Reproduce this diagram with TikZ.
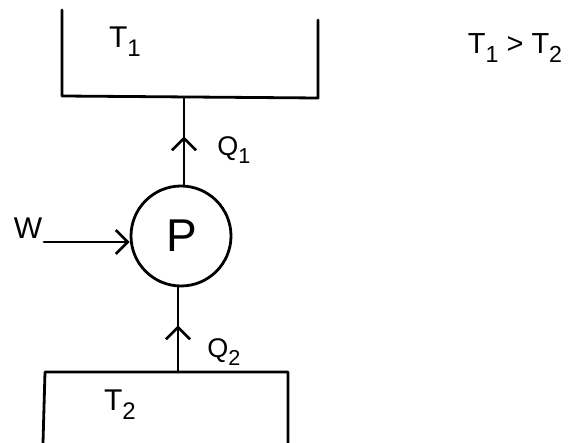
\documentclass[tikz,border=0pt]{standalone}
\usepackage{fontspec}
\setmainfont{Liberation Sans}
\usetikzlibrary{arrows.meta,decorations.markings}
% lowered subscript set in ordinary text
\newcommand\lowsub[1]{\raisebox{-0.3em}{\scalebox{0.8}{#1}}}
\tikzset{barb/.tip={Straight Barb[length=12pt,width=24pt,line width=2.6pt]}}
\begin{document}
\begin{tikzpicture}[x=1pt,y=-1pt,
  ink/.style={line width=2.8pt,line cap=round,line join=round},
  flow/.style={ink,postaction={decorate},decoration={markings,
      mark=at position 0.55 with {\arrow{barb}}}},
  lbl/.style={inner sep=0pt,font=\fontsize{30}{32}\selectfont}]
\useasboundingbox (0,0) rectangle (573,443);
% hot reservoir
\draw[ink] (62,10) -- (62,96) -- (318,98) -- (318,20);
\node[lbl] (t1) at (125,42) {T\lowsub{1}};
% cold reservoir
\draw[ink] (43,443) -- (45,372) -- (288,372) -- (288,443);
\node[lbl] (t2) at (120,405) {T\lowsub{2}};
% heat pump
\node[ink,draw,circle,minimum size=100pt,inner sep=0pt] (p) at (181,236) {};
\node[lbl,font=\fontsize{46}{48}\selectfont] (plbl) at (182,236) {P};
\coordinate (top) at (184,97);
\coordinate (bot) at (178,372);
\draw[flow] (p.north -| top) -- (top);
\draw[flow] (bot) -- (bot |- p.south);
\node[lbl,font=\fontsize{27}{29}\selectfont] (q1) at (234,150) {Q\lowsub{1}};
\node[lbl,font=\fontsize{27}{29}\selectfont] (q2) at (224,352) {Q\lowsub{2}};
% work input
\node[lbl] (w) at (28,228) {W};
\coordinate (w0) at (44,242);
\draw[ink,-{barb}] (w0) -- (w0 -| p.west);
% condition
\node[lbl,font=\fontsize{29}{31}\selectfont] (cond) at (515,48) {T\lowsub{1}\;>\;T\lowsub{2}};
\end{tikzpicture}
\end{document}
